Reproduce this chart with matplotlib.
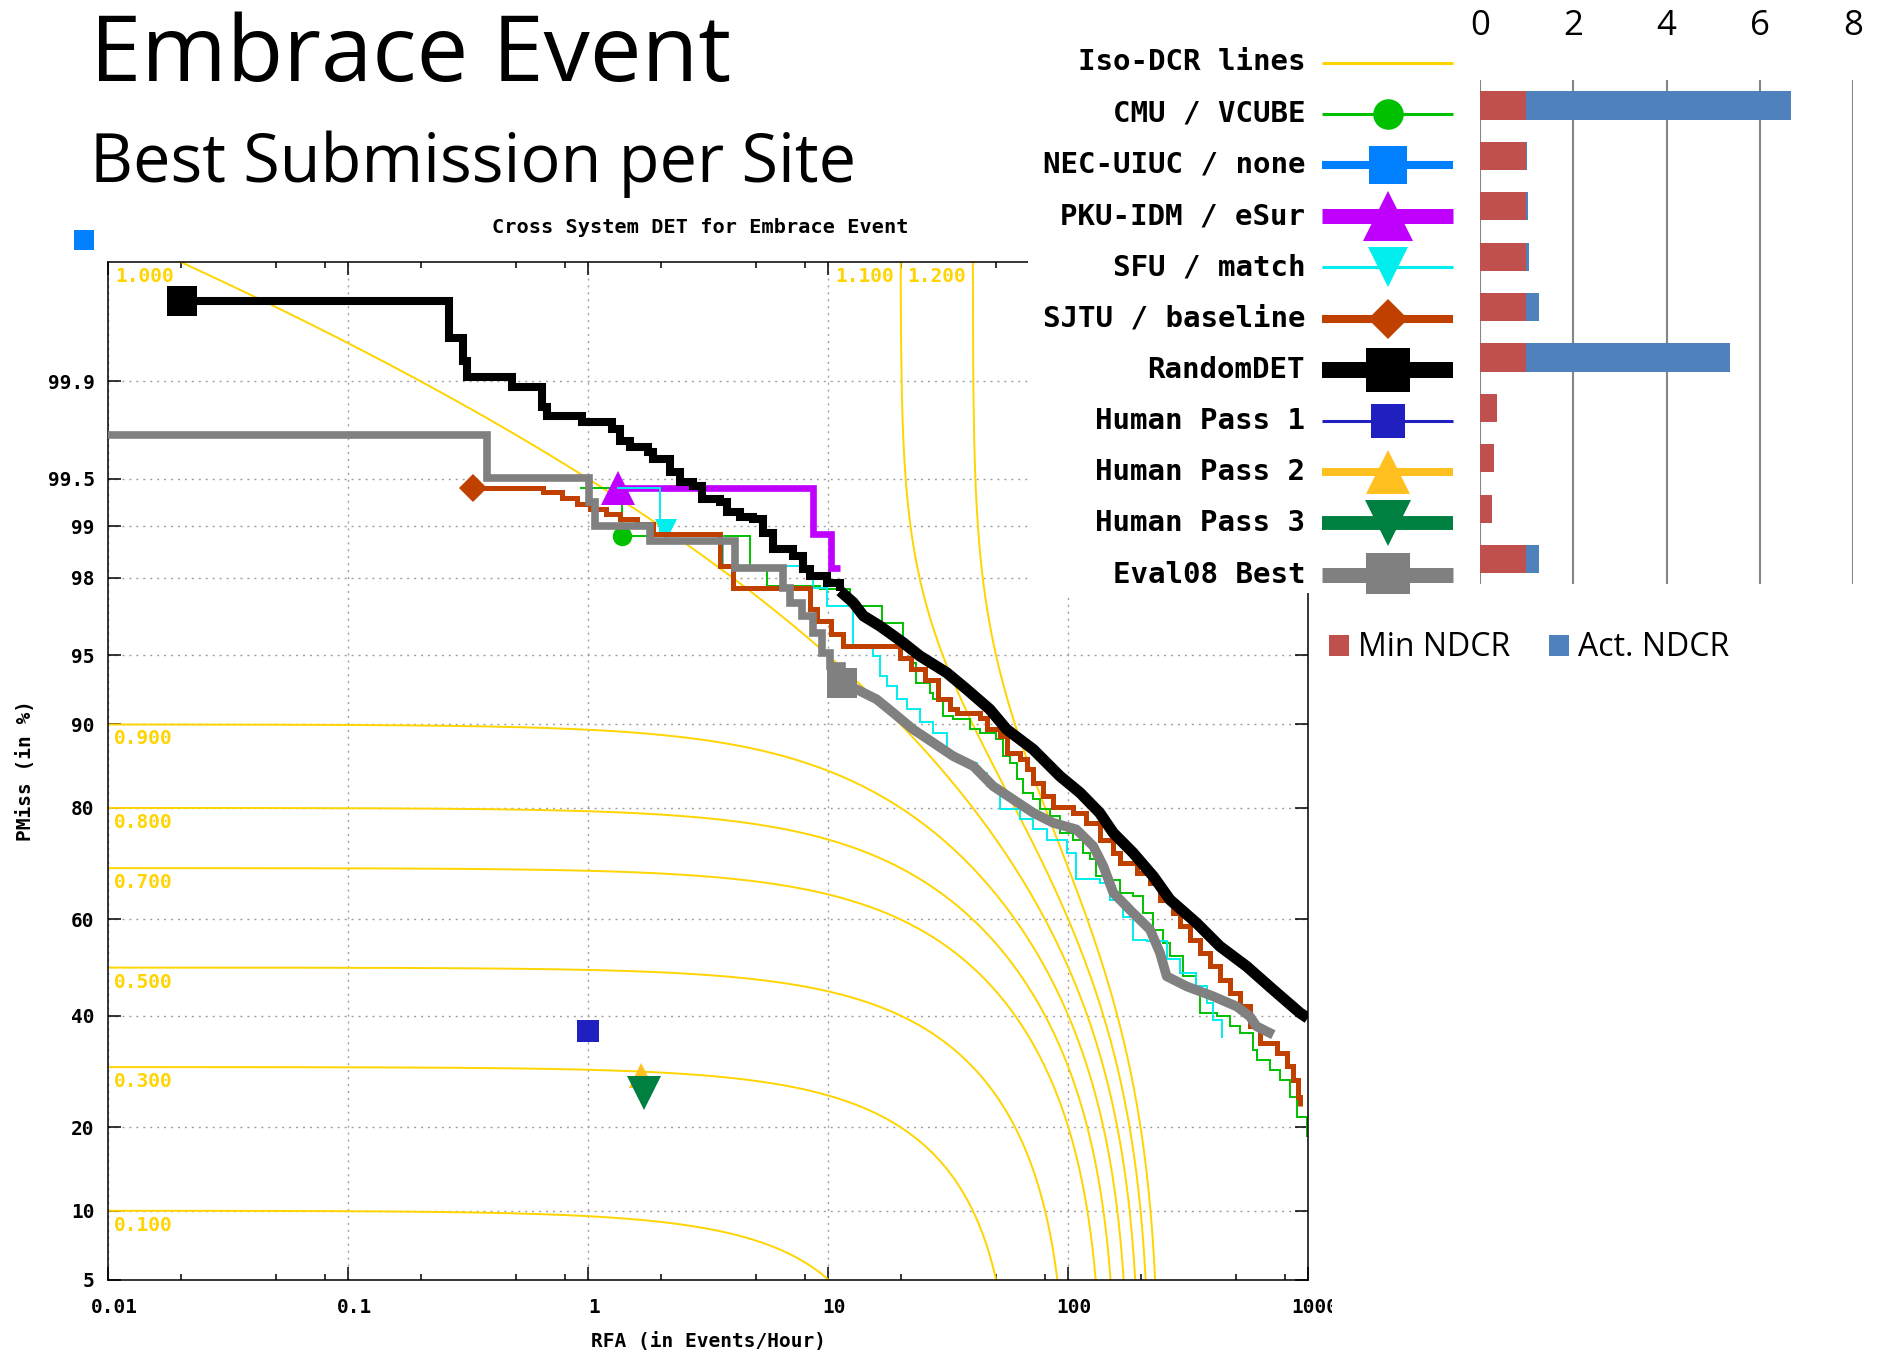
import math
import numpy as np
import matplotlib
matplotlib.use("Agg")
import matplotlib.pyplot as plt
from matplotlib.ticker import FixedLocator, FixedFormatter, NullFormatter
from matplotlib.transforms import Bbox, TransformedBbox, ScaledTranslation

# ---------------------------------------------------------------- data
# DET curves: (RFA in events/hour, PMiss in %)
CMU_rfa = [0.92, 1.38, 4.71, 5.53, 9.2, 12.3, 16.7, 20.5, 22.6, 23.3,
           26.5, 27.4, 30.1, 33.1, 38.9, 42.9, 50.2, 53.5, 57.1, 60.9,
           64.9, 71.4, 76.2, 83.8, 92.2, 105, 115, 123, 131, 145,
           164, 186, 205, 226, 249, 265, 301, 342, 353, 415,
           471, 519, 589, 609, 692, 762, 838, 893, 984]
CMU_pmiss = [99.43, 98.86, 98.29, 97.79, 97.69, 97.17, 96.55, 95.33, 94.60, 93.34,
             92.63, 92.13, 90.76, 90.45, 89.54, 89.21, 88.55, 86.75, 86.0, 83.94,
             82.15, 81.22, 79.8, 78.77, 76.1, 75.0, 72.74, 71.57, 68.47, 67.86,
             65.32, 64.65, 61.33, 57.93, 55.17, 52.35, 48.16, 44.67, 40.5, 39.85,
             37.83, 36.5, 33.25, 31.35, 29.5, 27.7, 24.8, 21.6, 18.65]

PKU_rfa = [1.33, 8.65, 10.3, 11.2]
PKU_pmiss = [99.43, 98.885, 98.25, 98.25]

SFU_rfa = [1.31, 1.99, 3.65, 8.65, 9.84, 12.7, 15.4, 16.4, 17.5, 19.3,
           21.2, 24.1, 27.4, 31.1, 35.3, 41.5, 45.7, 51.9, 62.8, 71.4,
           81.3, 98.4, 108, 135, 149, 169, 186, 212, 257, 292,
           342, 377, 402, 435]
SFU_pmiss = [99.43, 98.86, 98.29, 97.74, 97.17, 95.50, 94.97, 93.78, 93.11, 92.13,
             91.32, 90.18, 89.21, 86.75, 86.0, 84.78, 83.05, 79.8, 78.25, 76.67,
             75.0, 72.74, 67.9, 67.2, 64.0, 60.6, 55.8, 55.5, 51.7, 48.9,
             46.1, 42.6, 39.2, 35.5]

SJTU_rfa = [0.330, 0.545, 0.65, 0.78, 0.9, 1.02, 1.18, 1.36, 1.6, 1.86,
            3.53, 4.02, 8.38, 8.93, 10.3, 11.5, 19.9, 22.2, 25.3, 28.7,
            32.1, 34.3, 42.9, 45.7, 51.9, 55.3, 62.8, 67.0, 71.4, 78.5,
            86.5, 105, 119, 135, 154, 164, 193, 219, 241, 274,
            292, 321, 353, 389, 428, 471, 519, 571, 629, 738,
            813, 866, 908, 923]
SJTU_pmiss = [99.43, 99.43, 99.39, 99.33, 99.27, 99.216, 99.16, 99.096, 99.03, 98.885,
              98.29, 97.74, 97.06, 96.62, 96.05, 95.50, 94.89, 94.20, 93.55, 92.13,
              91.32, 91.0, 90.6, 89.54, 88.9, 87.1, 86.4, 85.2, 83.5, 81.7,
              80.2, 79.27, 77.7, 75.0, 72.7, 70.96, 69.1, 67.2, 64.0, 61.3,
              58.6, 55.8, 53.1, 50.3, 47.4, 44.7, 41.9, 37.8, 34.5, 32.6,
              30.1, 27.7, 24.8, 23.2]

RANDOM_rfa = [0.0202, 0.262, 0.301, 0.311, 0.479, 0.639, 0.672, 0.937, 1.25, 1.35,
              1.49, 1.78, 1.86, 2.19, 2.41, 2.74, 2.97, 3.53, 3.77, 4.28,
              4.87, 5.36, 5.89, 7.14, 7.86, 8.38, 9.84, 11.2, 12.7, 14.0,
              16.4, 20.5, 24.1, 31.1, 37.7, 47.1, 55.3, 71.4, 92.2, 112,
              135, 154, 186, 226, 265, 342, 428, 554, 714, 923, 995]
RANDOM_pmiss = [99.978, 99.955, 99.931, 99.908, 99.889, 99.843, 99.819, 99.797, 99.774, 99.726,
                99.695, 99.670, 99.632, 99.547, 99.472, 99.444, 99.322, 99.29, 99.178, 99.118,
                99.096, 98.907, 98.628, 98.50, 98.214, 98.05, 97.88, 97.64, 97.28, 96.81,
                96.41, 95.66, 94.97, 94.0, 92.88, 91.32, 89.54, 87.49, 84.36, 82.15,
                79.27, 76.1, 72.74, 68.47, 63.98, 59.29, 54.46, 50.24, 45.34, 40.55, 39.5]

EVAL08_rfa = [0.01, 0.377, 1.01, 1.07, 1.81, 4.08, 6.49, 6.92, 7.74, 8.65,
              9.37, 10.2, 11.4, 13.1, 15.9, 18.6, 22.6, 27.4, 33.1, 40.2,
              48.6, 58.9, 71.4, 86.5, 108, 127, 140, 154, 186, 219,
              241, 257, 311, 402, 503, 571, 609, 715]
EVAL08_pmiss = [99.751, 99.503, 99.29, 99.005, 98.77, 98.25, 97.74, 97.28, 96.81, 96.13,
                95.16, 94.40, 93.34, 92.88, 92.13, 91.05, 89.52, 88.19, 86.75, 85.59,
                83.05, 81.22, 79.27, 77.72, 76.67, 73.90, 70.33, 65.32, 61.33, 57.93,
                53.07, 48.16, 46.06, 43.96, 41.88, 39.82, 37.83, 36.17]

# actual-decision points (RFA, PMiss %)
ACT_POINTS = {
    "CMU / VCUBE": (1.38, 98.86),
    "NEC-UIUC / none": (0.0079, 99.9937),
    "PKU-IDM / eSur": (1.33, 99.43),
    "SFU / match": (2.1, 98.95),
    "SJTU / baseline": (0.330, 99.43),
    "RandomDET": (0.0202, 99.978),
    "Human Pass 1": (1.0, 36.96),
    "Human Pass 2": (1.66, 28.5),
    "Human Pass 3": (1.71, 25.5),
    "Eval08 Best": (11.4, 93.34),
}

# iso-cost curves: NDCR = PMiss + BETA * RFA
ISO_VALUES = [0.1, 0.3, 0.5, 0.7, 0.8, 0.9, 1.0, 1.1, 1.2]
BETA = 0.005

KEY_ROWS = ["Iso-DCR lines", "CMU / VCUBE", "NEC-UIUC / none", "PKU-IDM / eSur",
            "SFU / match", "SJTU / baseline", "RandomDET", "Human Pass 1",
            "Human Pass 2", "Human Pass 3", "Eval08 Best"]

BAR_CATS = KEY_ROWS[1:]
MIN_NDCR = [0.98, 0.99, 0.99, 0.99, 0.98, 0.98, 0.37, 0.29, 0.26, 0.98]
ACT_NDCR = [6.68, 1.00, 1.04, 1.05, 1.26, 5.36, 0.37, 0.29, 0.26, 1.26]
BAR_TICKS = [0, 2, 4, 6, 8]

Y_TICKS = [5, 10, 20, 40, 60, 80, 90, 95, 98, 99, 99.5, 99.9]
Y_TICK_LABELS = ["5", "10", "20", "40", "60", "80", "90", "95", "98", "99", "99.5", "99.9"]
X_TICKS = [0.01, 0.1, 1, 10, 100, 1000]
X_TICK_LABELS = ["0.01", "0.1", "1", "10", "100", "1000"]

# ---------------------------------------------------------------- normal deviate scale
_A = [-3.969683028665376e+01, 2.209460984245205e+02, -2.759285104469687e+02,
      1.383577518672690e+02, -3.066479806614716e+01, 2.506628277459239e+00]
_B = [-5.447609879822406e+01, 1.615858368580409e+02, -1.556989798598866e+02,
      6.680131188771972e+01, -1.328068155288572e+01]
_C = [-7.784894002430293e-03, -3.223964580411365e-01, -2.400758277161838e+00,
      -2.549732539343734e+00, 4.374664141464968e+00, 2.938163982698783e+00]
_D = [7.784695709041462e-03, 3.224671290700398e-01, 2.445134137142996e+00,
      3.754408661907416e+00]


def norm_ppf(p):
    p = np.asarray(p, dtype=float)
    ok = (p > 0) & (p < 1)
    q = np.where(ok, p, 0.5)
    u = q - 0.5
    r = u * u
    num = ((((_A[0] * r + _A[1]) * r + _A[2]) * r + _A[3]) * r + _A[4]) * r + _A[5]
    den = ((((_B[0] * r + _B[1]) * r + _B[2]) * r + _B[3]) * r + _B[4]) * r + 1.0
    x = num * u / den
    t = np.sqrt(-2.0 * np.log(np.where(q < 0.5, q, 1.0 - q)))
    tail = (((((_C[0] * t + _C[1]) * t + _C[2]) * t + _C[3]) * t + _C[4]) * t + _C[5]) / \
           ((((_D[0] * t + _D[1]) * t + _D[2]) * t + _D[3]) * t + 1.0)
    plow = 0.02425
    x = np.where(q < plow, tail, x)
    x = np.where(q > 1 - plow, -tail, x)
    return np.where(ok, x, np.nan)


_erfc = np.vectorize(math.erfc, otypes=[float])


def norm_cdf(z):
    z = np.asarray(z, dtype=float)
    return 0.5 * _erfc(-z / math.sqrt(2.0))


def pct_forward(v):
    return norm_ppf(np.asarray(v, dtype=float) / 100.0)


def pct_inverse(z):
    return 100.0 * norm_cdf(z)


# ---------------------------------------------------------------- styles
W, H = 1877, 1351
MONO = "DejaVu Sans Mono"
SANS = "Open Sans"
ISO_COLOR = "#FFD400"

STYLE = {
    "Iso-DCR lines":   dict(color=ISO_COLOR, lw=1.4, marker=None, ms=0, klw=2.2, kms=0),
    "CMU / VCUBE":     dict(color="#00C000", lw=1.4, marker="o", ms=14, klw=2.2, kms=22),
    "NEC-UIUC / none": dict(color="#0080FF", lw=4.0, marker="s", ms=14, klw=5.8, kms=28),
    "PKU-IDM / eSur":  dict(color="#C000FF", lw=4.8, marker="^", ms=24, klw=10.8, kms=36),
    "SFU / match":     dict(color="#00EEEE", lw=1.4, marker="v", ms=16, klw=2.2, kms=29),
    "SJTU / baseline": dict(color="#C04000", lw=3.6, marker="D", ms=14, klw=5.8, kms=20),
    "RandomDET":       dict(color="#000000", lw=5.8, marker="s", ms=21.5, klw=11.5, kms=32),
    "Human Pass 1":    dict(color="#2020C0", lw=1.4, marker="s", ms=16.5, klw=2.2, kms=24),
    "Human Pass 2":    dict(color="#FFC020", lw=4.0, marker="^", ms=18, klw=5.8, kms=31),
    "Human Pass 3":    dict(color="#008040", lw=5.5, marker="v", ms=24, klw=10.0, kms=33),
    "Eval08 Best":     dict(color="#808080", lw=5.5, marker="s", ms=21, klw=10.8, kms=32),
}

CURVES = {
    "CMU / VCUBE": (CMU_rfa, CMU_pmiss),
    "PKU-IDM / eSur": (PKU_rfa, PKU_pmiss),
    "SFU / match": (SFU_rfa, SFU_pmiss),
    "SJTU / baseline": (SJTU_rfa, SJTU_pmiss),
    "RandomDET": (RANDOM_rfa, RANDOM_pmiss),
    "Eval08 Best": (EVAL08_rfa, EVAL08_pmiss),
}
# beyond this RFA the thick staircases are fine-grained enough to draw as a
# polyline; the tiny steps make that stretch look heavier
DENSE_FROM = {"RandomDET": (11.2, 8.0), "Eval08 Best": (11.4, 7.0)}

# ---------------------------------------------------------------- figure
fig = plt.figure(figsize=(W / 100, H / 100), dpi=100)
fig.patch.set_facecolor("white")

fig.text(90 / W, 1 - 81 / H, "Embrace Event", family=SANS, fontsize=66.5,
         ha="left", va="baseline")
fig.text(90 / W, 1 - 182 / H, "Best Submission per Site", family=SANS, fontsize=48,
         ha="left", va="baseline")

# DET plot
ax_l, ax_r, ax_t, ax_b = 108.4, 1308.3, 262.0, 1279.6
ax = fig.add_axes([ax_l / W, 1 - ax_b / H, (ax_r - ax_l) / W, (ax_b - ax_t) / H])
ax.set_xscale("log")
ax.set_yscale("function", functions=(pct_forward, pct_inverse))
ax.set_xlim(0.01, 1000)
ax.set_ylim(5, 99.99)

ax.xaxis.set_major_locator(FixedLocator(X_TICKS))
ax.xaxis.set_major_formatter(FixedFormatter(X_TICK_LABELS))
minor_x = [m * 10.0 ** e for e in range(-2, 3) for m in (2, 5, 8)]
ax.xaxis.set_minor_locator(FixedLocator(minor_x))
ax.xaxis.set_minor_formatter(NullFormatter())
ax.yaxis.set_major_locator(FixedLocator(Y_TICKS))
ax.yaxis.set_major_formatter(FixedFormatter(Y_TICK_LABELS))
ax.yaxis.set_minor_locator(FixedLocator([]))

tick_font = dict(family=MONO, weight="bold", size=14)
ax.tick_params(which="both", direction="in", top=True, right=True, width=1.1, color="black")
ax.tick_params(which="major", length=9.5)
ax.tick_params(which="minor", length=4.5)
ax.tick_params(axis="x", which="major", pad=13)
ax.tick_params(axis="y", which="major", pad=10)
for lbl in ax.get_xticklabels() + ax.get_yticklabels():
    lbl.set_fontproperties(matplotlib.font_manager.FontProperties(**tick_font))
for s in ax.spines.values():
    s.set_linewidth(1.1)

ax.grid(True, which="major", color="#A0A0A0", linestyle=(0, (1.5, 3.5)), linewidth=1.0)
ax.set_axisbelow(True)

ax.set_title("Cross System DET for Embrace Event", fontfamily=MONO, fontweight="bold",
             fontsize=14.6, pad=21, x=0.493)
ax.set_xlabel("RFA (in Events/Hour)", fontfamily=MONO, fontweight="bold", fontsize=14,
              labelpad=11)
ax.set_ylabel("PMiss (in %)", fontfamily=MONO, fontweight="bold", fontsize=14,
              labelpad=9)

# iso-cost curves and their value labels
grid_rfa = np.logspace(-2.5, 3.5, 4000)
top_pm = 99.99
iso_font = {"fontfamily": MONO, "fontweight": "bold", "fontsize": 14}
for v in ISO_VALUES:
    extra = (v - np.array([0.999995, 0.99999, 0.9999])) / BETA
    r = np.sort(np.concatenate([grid_rfa, extra[extra > 0]]))
    pm = v - BETA * r
    pm = np.where((pm > 0) & (pm < 1), pm * 100.0, np.nan)
    ax.plot(r, pm, color=ISO_COLOR, lw=1.4, zorder=1.5)
    pm_left = (v - BETA * 0.01) * 100.0
    if pm_left < top_pm:
        ax.annotate(f"{v:.3f}", xy=(0.01, pm_left), xytext=(5, -5),
                    textcoords="offset pixels", ha="left", va="top",
                    color=ISO_COLOR, zorder=1.6, **iso_font)
    else:
        r_top = (v - top_pm / 100.0) / BETA
        ax.annotate(f"{v:.3f}", xy=(r_top, top_pm), xytext=(-7, -5),
                    textcoords="offset pixels", ha="right", va="top",
                    color=ISO_COLOR, zorder=1.6, **iso_font)

# system curves and actual-decision markers, in key order
z = 2.0
for name in KEY_ROWS[1:]:
    st = STYLE[name]
    if name in CURVES:
        xr, yp = np.asarray(CURVES[name][0]), np.asarray(CURVES[name][1])
        if name in DENSE_FROM:
            x_dense, lw_dense = DENSE_FROM[name]
            k = int(np.searchsorted(xr, x_dense))
            ax.plot(xr[:k + 1], yp[:k + 1], drawstyle="steps-post", color=st["color"],
                    lw=st["lw"], solid_joinstyle="miter", solid_capstyle="butt", zorder=z)
            ax.plot(xr[k:], yp[k:], color=st["color"], lw=lw_dense,
                    solid_joinstyle="round", solid_capstyle="butt", zorder=z)
        else:
            ax.plot(xr, yp, drawstyle="steps-post", color=st["color"], lw=st["lw"],
                    solid_joinstyle="miter", solid_capstyle="butt", zorder=z)
    px, py = ACT_POINTS[name]
    ax.plot([px], [py], linestyle="none", marker=st["marker"], ms=st["ms"],
            color=st["color"], markeredgewidth=0, zorder=z + 0.05,
            clip_on=(name != "NEC-UIUC / none"))
    z += 0.1

# key box (covers the upper-right corner of the DET frame)
k_l, k_r, k_t, k_b = 1028, 1475, 0, 593
ax_key = fig.add_axes([k_l / W, 1 - k_b / H, (k_r - k_l) / W, (k_b - k_t) / H])
ax_key.set_zorder(5)
ax_key.set_facecolor("white")
ax_key.set_xlim(k_l, k_r)
ax_key.set_ylim(k_b, k_t)
ax_key.set_xticks([])
ax_key.set_yticks([])
for s in ax_key.spines.values():
    s.set_visible(False)
row_y0, row_dy = 62.5, 51.2
for i, name in enumerate(KEY_ROWS):
    st = STYLE[name]
    yy = row_y0 + i * row_dy
    ax_key.text(1305, yy, name, ha="right", va="center", fontfamily=MONO,
                fontweight="bold", fontsize=21)
    ax_key.plot([1322, 1453], [yy, yy], color=st["color"], lw=st["klw"],
                solid_capstyle="butt")
    if st["marker"]:
        ax_key.plot([1387.5], [yy], linestyle="none", marker=st["marker"],
                    ms=st["kms"], color=st["color"], markeredgewidth=0)

# NDCR bar chart
b_l, b_r, b_t, b_b = 1480, 1853, 80.3, 584.2
ax_bar = fig.add_axes([b_l / W, 1 - b_b / H, (b_r - b_l) / W, (b_b - b_t) / H])
ax_bar.set_zorder(6)
ax_bar.patch.set_alpha(0)
ypos = np.arange(len(BAR_CATS))
bars_act = ax_bar.barh(ypos, ACT_NDCR, height=0.56, color="#4F81BD", linewidth=0,
                       label="Act. NDCR")
bars_min = ax_bar.barh(ypos, MIN_NDCR, height=0.56, color="#C0504D", linewidth=0,
                       label="Min NDCR")
ax_bar.set_xlim(0, 8)
ax_bar.set_ylim(len(BAR_CATS) - 0.5, -0.5)
ax_bar.set_xticks(BAR_TICKS)
ax_bar.set_xticklabels([str(t) for t in BAR_TICKS], fontfamily=SANS, fontsize=25)
ax_bar.xaxis.tick_top()
ax_bar.tick_params(axis="x", length=0, pad=27)
ax_bar.set_yticks([])
for s in ax_bar.spines.values():
    s.set_visible(False)
ax_bar.grid(True, axis="x", color="#868686", linewidth=1.5)
ax_bar.set_axisbelow(True)

ax_bar.legend([bars_min, bars_act], ["Min NDCR", "Act. NDCR"], loc="center left",
              bbox_to_anchor=(1329 / W, 1 - 648 / H), bbox_transform=fig.transFigure,
              ncol=2, frameon=False, prop=dict(family=SANS, size=23),
              handlelength=0.62, handleheight=0.62, handletextpad=0.3,
              columnspacing=1.2, borderpad=0, borderaxespad=0)

# the DET image is cut at its right edge: x labels sit slightly right of
# their ticks and are clipped there
fig.canvas.draw()
clip = TransformedBbox(Bbox.from_extents(0, 0, 1332 / W, 1), fig.transFigure)
shift = ScaledTranslation(6 / 100, 0, fig.dpi_scale_trans)
for tick in ax.xaxis.get_major_ticks():
    tick.label1.set_transform(tick.label1.get_transform() + shift)
    tick.label1.set_clip_box(clip)
    tick.label1.set_clip_on(True)

fig.savefig("out.png", dpi=100, facecolor="white")
